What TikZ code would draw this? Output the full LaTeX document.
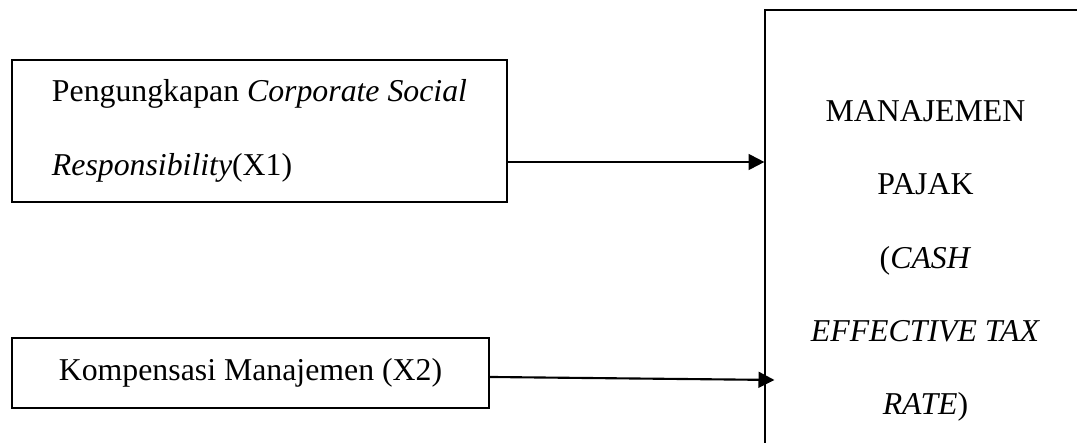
\documentclass[tikz,border=0pt]{standalone}
\usepackage{fontspec}
\setmainfont{Liberation Serif}
\usetikzlibrary{arrows.meta}

\begin{document}
\begin{tikzpicture}[x=0.3774pt,y=-0.3774pt,
  box/.style={draw,line width=0.5pt,inner sep=0pt,font=\fontsize{12}{28}\selectfont},
  link/.style={line width=0.8pt,-{Triangle[length=6pt,width=6pt]}}]
\clip (0,0) rectangle (1077,443);
\node[box,minimum width=186.8pt,minimum height=53.6pt,align=left] (csr) at (259.5,131) {Pengungkapan \textit{Corporate Social}\\\textit{Responsibility}(X1)};
\node[box,minimum width=180pt,minimum height=26.4pt] (komp) at (250.5,373) {Kompensasi Manajemen (X2)};
\node[box,minimum width=121.1pt,minimum height=189.5pt,align=center,font=\fontsize{12}{27.6}\selectfont] (pajak) at (925.5,261) {MANAJEMEN\\PAJAK\\(\textit{CASH}\\\textit{EFFECTIVE TAX}\\\textit{RATE})};
% arrows into the dependent variable
\coordinate (s1) at ([yshift=-11.7pt]csr.east);
\coordinate (s2) at ([yshift=-1.5pt]komp.east);
\draw[link] (s1) -- (s1 -| pajak.west);
\draw[link] (s2) -- ([shift={(10,3)}]s2 -| pajak.west);
\end{tikzpicture}
\end{document}
